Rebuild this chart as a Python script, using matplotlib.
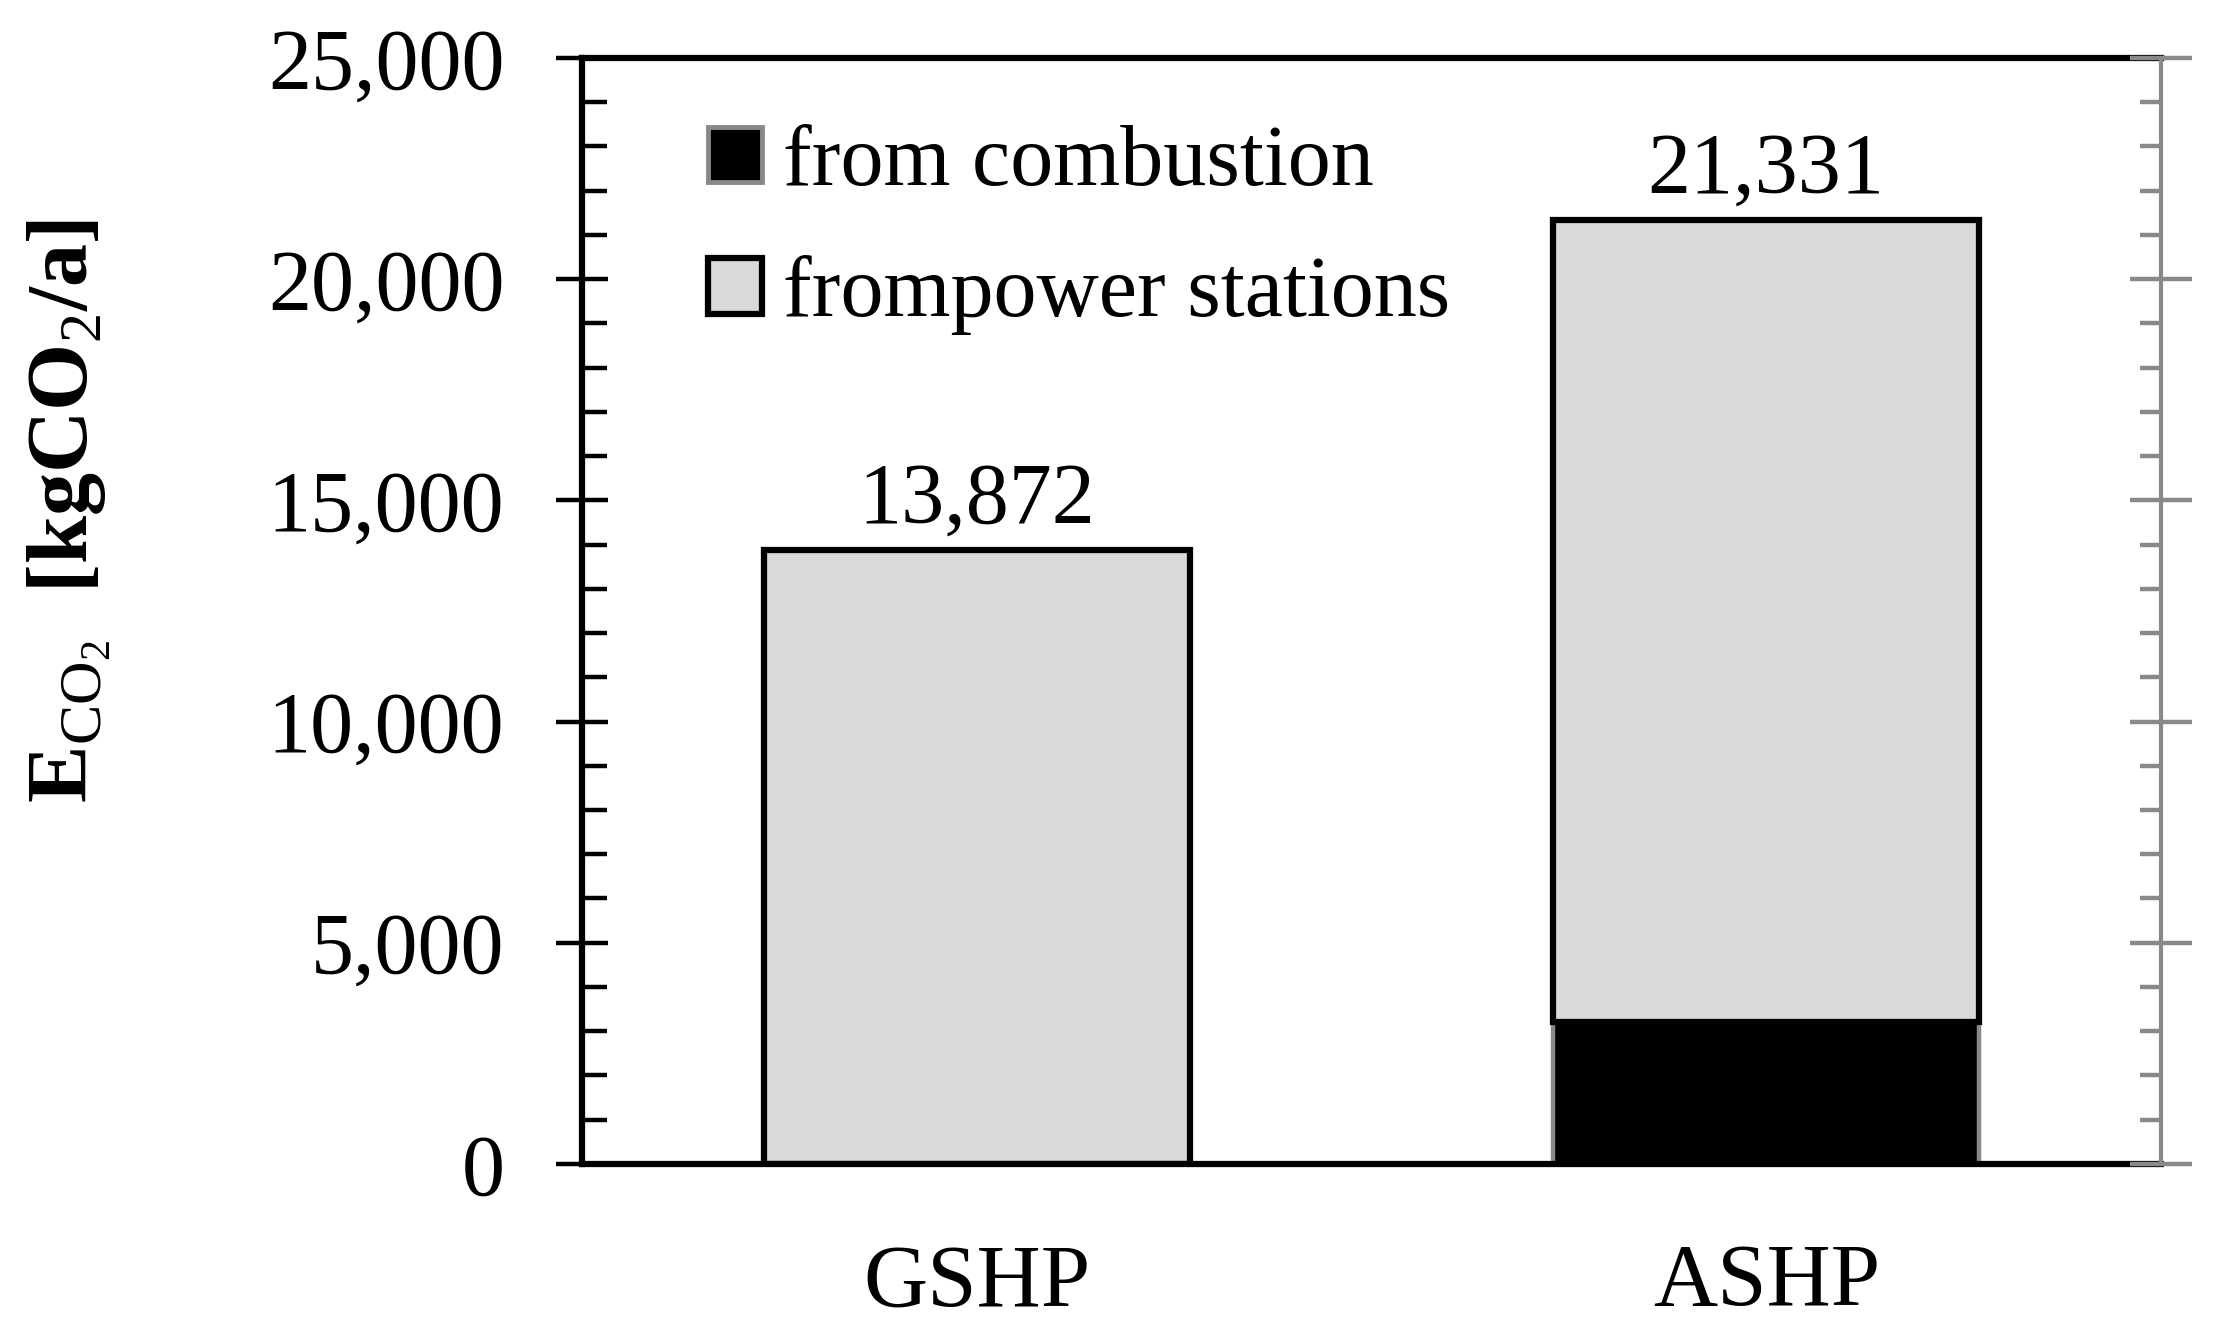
import matplotlib
matplotlib.use("Agg")
import matplotlib.pyplot as plt
from matplotlib.patches import Patch
from matplotlib.ticker import MultipleLocator, FuncFormatter

# --- data ---
systems = ["GSHP", "ASHP"]
from_combustion = [0, 3200]
from_power = [13872, 18131]
totals = [13872, 21331]

plt.rcParams["font.family"] = ["Liberation Serif", "DejaVu Serif"]
plt.rcParams["mathtext.fontset"] = "custom"
plt.rcParams["mathtext.rm"] = "Liberation Serif"
plt.rcParams["mathtext.bf"] = "Liberation Serif:bold"

grey_fill = "#d9d9d9"
grey_line = "#898989"

fig = plt.figure(figsize=(22.15, 13.29), dpi=100)
ax = fig.add_axes([0.2628, 0.1242, 0.9756 - 0.2628, 0.9564 - 0.1242])

x = range(len(systems))
w = 0.54

# black part (combustion), grey edges
ax.bar(x, from_combustion, width=w, color="black", edgecolor=grey_line,
       linewidth=3.2, zorder=2)
# grey part (power stations), black edges
ax.bar(x, from_power, width=w, bottom=from_combustion, color=grey_fill,
       edgecolor="black", linewidth=4.5, zorder=2)

for xi, t in zip(x, totals):
    ax.annotate(f"{t:,}", (xi, t), xytext=(0, 6), textcoords="offset points",
                ha="center", va="bottom", fontsize=62)

ax.set_xlim(-0.5, 1.5)
ax.set_ylim(0, 25000)
ax.set_xticks(list(x))
ax.set_xticklabels(systems)
ax.tick_params(axis="x", length=0, pad=57, labelsize=64)

ax.yaxis.set_major_locator(MultipleLocator(5000))
ax.yaxis.set_minor_locator(MultipleLocator(1000))
ax.yaxis.set_major_formatter(FuncFormatter(lambda v, p: f"{int(v):,}"))
ax.tick_params(axis="y", which="major", direction="inout", length=38,
               width=3.2, pad=37, labelsize=62)
ax.tick_params(axis="y", which="minor", direction="in", length=18, width=3.2)

for s in ["left", "top", "bottom"]:
    ax.spines[s].set_linewidth(4.5)
    ax.spines[s].set_color("black")
ax.spines["right"].set_visible(False)

# grey secondary axis on the right
ax2 = ax.twinx()
ax2.set_ylim(ax.get_ylim())
ax2.yaxis.set_major_locator(MultipleLocator(5000))
ax2.yaxis.set_minor_locator(MultipleLocator(1000))
ax2.tick_params(axis="y", which="major", direction="inout", length=44,
                width=3.2, color=grey_line, labelright=False)
ax2.tick_params(axis="y", which="minor", direction="in", length=15,
                width=3.2, color=grey_line)
for s in ["left", "top", "bottom"]:
    ax2.spines[s].set_visible(False)
ax2.spines["right"].set_color(grey_line)
ax2.spines["right"].set_linewidth(3)

ax.set_ylabel(r"E$_{\mathrm{CO}_2}$  [kgCO$_2$/a]", fontsize=62, fontweight="bold")
ax.yaxis.set_label_coords(-0.297, 0.59)

handles = [Patch(facecolor="black", edgecolor=grey_line, linewidth=3.5),
           Patch(facecolor=grey_fill, edgecolor="black", linewidth=4.5)]
ax.legend(handles, ["from combustion", "frompower stations"], loc="upper left",
          bbox_to_anchor=(0.08, 0.94), frameon=False, fontsize=62,
          borderpad=0, borderaxespad=0,
          handlelength=0.62, handleheight=0.62, handletextpad=0.25,
          labelspacing=0.6)

fig.savefig("out.png", dpi=100)
